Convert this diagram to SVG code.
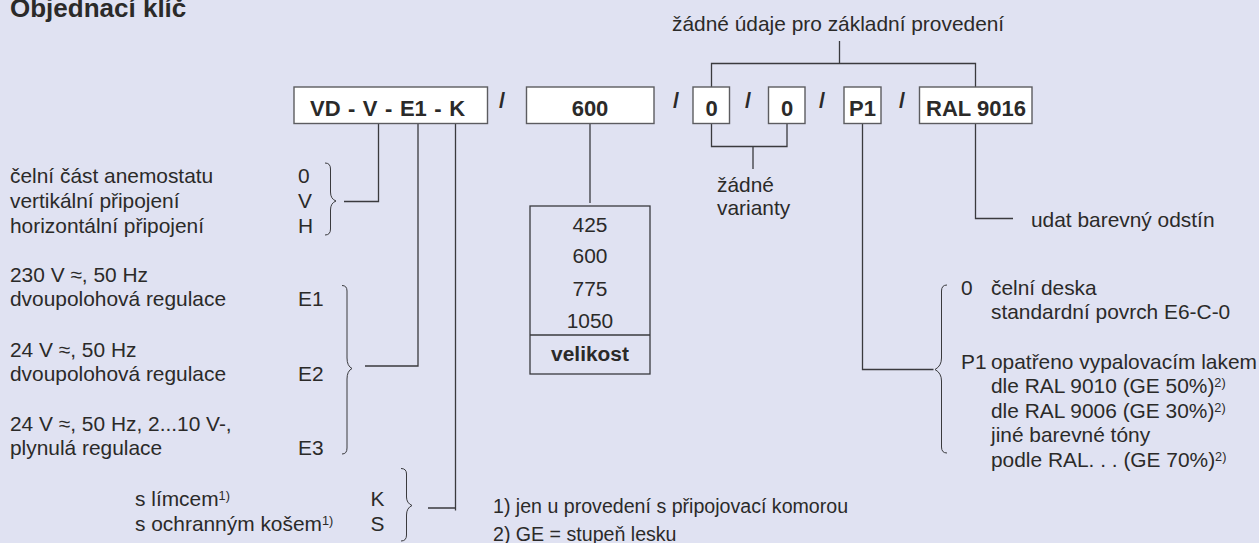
<svg xmlns="http://www.w3.org/2000/svg" width="1259" height="543" viewBox="0 0 1259 543">
<style>
text{font-family:"Liberation Sans",Arial,sans-serif;font-size:20.9px;fill:#2b2a29}
.b{font-weight:bold}
.k{font-weight:bold;font-size:22px;text-anchor:middle}
.m{text-anchor:middle}
.s{font-size:12.7px}
.f{font-size:19.6px}
.box{fill:#fff;stroke:#5c5c60;stroke-width:1.4}
.c{fill:none;stroke:#3a3a3e;stroke-width:1.3}
.br{fill:none;stroke:#3a3a3e;stroke-width:1}
</style>
<rect width="1259" height="543" fill="#e0e2f2"/>
<text id="title" class="b" x="10" y="17" style="font-size:26px">Objednací klíč</text>
<g id="connectors">
<path class="c" d="M378.500 123V201.500H344"/>
<path class="c" d="M418 123V366H365"/>
<path class="c" d="M455.500 123V510.500M428 508H455.500"/>
<path class="c" d="M590 123V203"/>
<path class="c" d="M839.500 41V63.500M711.500 87V63.500H975.500V87"/>
<path class="c" d="M711.500 123V146.500H787V123M753 146.500V169"/>
<path class="c" d="M862.500 123V369.500H933.500"/>
<path class="c" d="M975.500 123V218.500H1013"/>
<path class="br" d="M325 163Q330.500 163 330.500 169V192Q330.500 199 336 201Q330.500 203 330.500 210V229Q330.500 235 325 235"/>
<path class="br" d="M342 285.500Q347 285.500 347 291V358Q347 366 352 368.500Q347 371 347 379V448Q347 454 342 454"/>
<path class="br" d="M401 468.500Q406.500 468.500 406.500 474V497Q406.500 503 412 505.500Q406.500 508 406.500 515V535Q406.500 541 401 541"/>
<path class="br" d="M947 285Q941.500 285 941.500 291V358Q941.500 366 935 369.500Q941.500 373 941.500 381V447Q941.500 453 947 453"/>
</g>
<g id="key-vd"><rect class="box" x="294" y="87" width="193.500" height="36.500"/><text class="k" x="387.500" y="116" style="word-spacing:1.4px">VD - V - E1 - K</text></g>
<g id="slashes"><text class="k" x="502" y="108">/</text><text class="k" x="676" y="108">/</text><text class="k" x="748" y="108">/</text><text class="k" x="822" y="108">/</text><text class="k" x="902" y="108">/</text></g>
<g id="key-600"><rect class="box" x="526.500" y="87" width="127.500" height="36.500"/><text class="k" x="590" y="116">600</text></g>
<g id="key-0a"><rect class="box" x="693" y="87" width="36.500" height="36.500"/><text class="k" x="711.500" y="116">0</text></g>
<g id="key-0b"><rect class="box" x="768.500" y="87" width="36.500" height="36.500"/><text class="k" x="787" y="116">0</text></g>
<g id="key-p1"><rect class="box" x="844" y="87" width="37" height="36.500"/><text class="k" x="862.500" y="116">P1</text></g>
<g id="key-ral"><rect class="box" x="919.500" y="87" width="112.500" height="36.500"/><text class="k" x="976" y="116">RAL 9016</text></g>
<g id="size-table"><rect x="530" y="206" width="120" height="168" fill="none" stroke="#3a3a3e" stroke-width="1.3"/><path class="c" d="M530 335H650"/>
<text class="m" x="590" y="232">425</text><text class="m" x="590" y="263">600</text><text class="m" x="590" y="296">775</text><text class="m" x="590" y="328">1050</text><text class="m b" x="590" y="361">velikost</text></g>
<g id="top-note"><text x="672" y="31">žádné údaje pro základní provedení</text></g>
<g id="variants"><text x="717" y="192">žádné</text><text x="717" y="215">varianty</text></g>
<g id="colour-note"><text x="1031" y="227">udat barevný odstín</text></g>
<g id="group-v"><text x="10" y="183">čelní část anemostatu</text><text x="10" y="208">vertikální připojení</text><text x="10" y="233">horizontální připojení</text>
<text x="298" y="183">0</text><text x="298" y="208">V</text><text x="298" y="233">H</text></g>
<g id="group-e"><text x="10" y="282">230 V ≈, 50 Hz</text><text x="10" y="306">dvoupolohová regulace</text><text x="298" y="306">E1</text>
<text x="10" y="357">24 V ≈, 50 Hz</text><text x="10" y="381">dvoupolohová regulace</text><text x="298" y="381">E2</text>
<text x="10" y="431">24 V ≈, 50 Hz, 2...10 V-,</text><text x="10" y="455">plynulá regulace</text><text x="298" y="455">E3</text></g>
<g id="group-k"><text x="135" y="506">s límcem<tspan class="s" dy="-6">1)</tspan></text><text x="135" y="531">s ochranným košem<tspan class="s" dy="-6">1)</tspan></text><text x="370.500" y="506">K</text><text x="370.500" y="531">S</text></g>
<g id="footnotes"><text class="f" x="493" y="513">1) jen u provedení s připojovací komorou</text><text class="f" x="493" y="541">2) GE = stupeň lesku</text></g>
<g id="group-p"><text x="961" y="295">0</text><text x="991" y="295">čelní deska</text><text x="991" y="319">standardní povrch E6-C-0</text>
<text x="961" y="369">P1</text><text x="991" y="369">opatřeno vypalovacím lakem</text><text x="991" y="393">dle RAL 9010 (GE 50%)<tspan class="s" dy="-6">2)</tspan></text><text x="991" y="418">dle RAL 9006 (GE 30%)<tspan class="s" dy="-6">2)</tspan></text><text x="991" y="442">jiné barevné tóny</text><text x="991" y="467">podle RAL. . . (GE 70%)<tspan class="s" dy="-6">2)</tspan></text></g>
</svg>
